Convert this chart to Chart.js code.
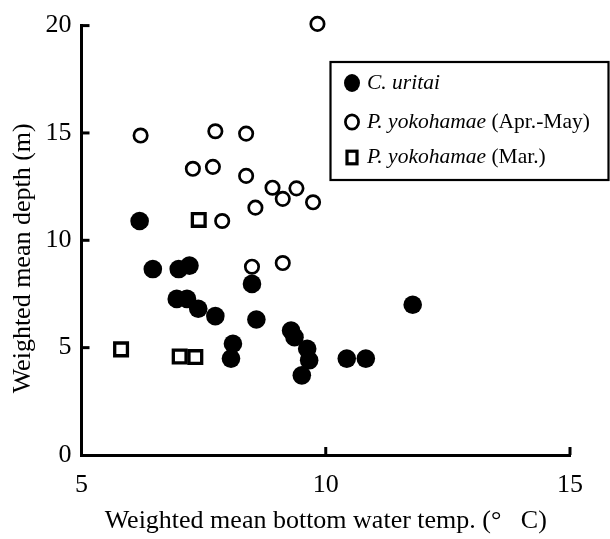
<!DOCTYPE html>
<html>
<head>
<meta charset="utf-8">
<script src="https://cdn.jsdelivr.net/npm/chart.js@4.4.1/dist/chart.umd.min.js"></script>
<style>
  html, body { margin: 0; padding: 0; background: #fff; }
  #wrap { width: 610px; height: 539px; position: relative; }
</style>
</head>
<body>
<div id="wrap"><canvas id="c" width="610" height="539"></canvas></div>
<script>
// ---- data ----
const xTicks = [5, 10, 15];
const yTicks = [0, 5, 10, 15, 20];

const uritaiX = [6.19, 6.46, 6.99, 7.21, 8.49, 6.95, 7.16, 7.39, 7.74, 8.58, 9.29, 9.36, 9.62, 9.66, 9.51, 8.10, 8.06, 10.43, 10.82, 11.78];
const uritaiY = [10.9, 8.66, 8.66, 8.82, 7.97, 7.27, 7.27, 6.81, 6.47, 6.31, 5.80, 5.49, 4.95, 4.41, 3.71, 5.18, 4.49, 4.49, 4.49, 7.0];

const aprMayX = [9.83, 6.21, 7.74, 8.37, 7.28, 7.69, 8.37, 8.91, 9.12, 9.40, 9.74, 8.56, 7.88, 8.49, 9.12];
const aprMayY = [20.08, 14.88, 15.08, 14.97, 13.33, 13.42, 13.0, 12.45, 11.93, 12.42, 11.77, 11.52, 10.9, 8.77, 8.94];

const marX = [7.40, 5.81, 7.01, 7.33];
const marY = [10.95, 4.92, 4.59, 4.56];

const legendItems = [
  { italic: 'C. uritai', normal: '' },
  { italic: 'P. yokohamae', normal: ' (Apr.-May)' },
  { italic: 'P. yokohamae', normal: ' (Mar.)' }
];
const xTitle = 'Weighted mean bottom water temp. (\u00b0\u2002 C)';
const yTitle = 'Weighted mean depth (m)';

// ---- build ----
const pts = (xs, ys) => xs.map((x, i) => ({ x: x, y: ys[i] }));
const FONT = '"Liberation Serif", "Times New Roman", serif';

const innerTicks = {
  id: 'innerTicks',
  afterDatasetsDraw(chart) {
    const ctx = chart.ctx, xs = chart.scales.x, ys = chart.scales.y;
    ctx.save();
    ctx.strokeStyle = '#000';
    ctx.lineWidth = 3;
    xTicks.forEach(v => {
      const px = xs.getPixelForValue(v);
      if (v === xs.min) return;
      ctx.beginPath();
      ctx.moveTo(px, ys.bottom);
      ctx.lineTo(px, ys.bottom - 8);
      ctx.stroke();
    });
    yTicks.forEach(v => {
      const py = ys.getPixelForValue(v);
      if (v === ys.min) return;
      ctx.beginPath();
      ctx.moveTo(xs.left, py);
      ctx.lineTo(xs.left + 8, py);
      ctx.stroke();
    });
    // y axis title (placed like the reference, a little below the axis centre)
    ctx.fillStyle = '#000';
    ctx.font = '26px ' + FONT;
    ctx.textAlign = 'center';
    ctx.textBaseline = 'middle';
    ctx.translate(23, (ys.top + ys.bottom) / 2 + 18);
    ctx.rotate(-Math.PI / 2);
    ctx.fillText(yTitle, 0, 0);
    ctx.restore();
  }
};

const boxLegend = {
  id: 'boxLegend',
  afterDraw(chart) {
    const ctx = chart.ctx;
    const L = 330.5, T = 62, R = 608.5, B = 180;
    ctx.save();
    ctx.fillStyle = '#fff';
    ctx.fillRect(L, T, R - L, B - T);
    ctx.strokeStyle = '#000';
    ctx.lineWidth = 2.2;
    ctx.strokeRect(L, T, R - L, B - T);
    const rows = [83, 122, 157.5];
    const mx = 352, tx = 367;
    // markers
    ctx.fillStyle = '#000';
    ctx.beginPath();
    ctx.ellipse(mx, rows[0], 8, 9, 0, 0, Math.PI * 2);
    ctx.fill();
    ctx.beginPath();
    ctx.lineWidth = 2.7;
    ctx.ellipse(mx, rows[1], 6.6, 7.2, 0, 0, Math.PI * 2);
    ctx.fillStyle = '#fff';
    ctx.fill();
    ctx.stroke();
    ctx.lineWidth = 3.2;
    ctx.strokeRect(mx - 5, rows[2] - 6.3, 10, 12.6);
    // text
    ctx.fillStyle = '#000';
    ctx.textBaseline = 'middle';
    ctx.textAlign = 'left';
    legendItems.forEach((it, i) => {
      ctx.font = 'italic 21.5px ' + FONT;
      ctx.fillText(it.italic, tx, rows[i]);
      const w = ctx.measureText(it.italic).width;
      ctx.font = '21.5px ' + FONT;
      ctx.fillText(it.normal, tx + w, rows[i]);
    });
    ctx.restore();
  }
};

new Chart(document.getElementById('c'), {
  type: 'scatter',
  data: {
    datasets: [
      {
        label: 'P. yokohamae (Apr.-May)',
        data: pts(aprMayX, aprMayY),
        pointStyle: 'circle',
        pointRadius: 6.7,
        pointBorderWidth: 2.7,
        pointBackgroundColor: '#fff',
        pointBorderColor: '#000',
        order: 1,
        clip: false
      },
      {
        label: 'P. yokohamae (Mar.)',
        data: pts(marX, marY),
        pointStyle: 'rect',
        pointRadius: 9,
        pointBorderWidth: 3.3,
        pointBackgroundColor: '#fff',
        pointBorderColor: '#000',
        order: 2,
        clip: false
      },
      {
        label: 'C. uritai',
        data: pts(uritaiX, uritaiY),
        pointStyle: 'circle',
        pointRadius: 9.3,
        pointBorderWidth: 0,
        pointBackgroundColor: '#000',
        pointBorderColor: '#000',
        order: 3,
        clip: false
      }
    ]
  },
  options: {
    responsive: false,
    animation: false,
    events: [],
    layout: { padding: { left: 0, right: 40, top: 23, bottom: 0 } },
    plugins: { legend: { display: false }, tooltip: { enabled: false } },
    scales: {
      x: {
        type: 'linear', min: 5, max: 15,
        afterBuildTicks: s => { s.ticks = xTicks.map(v => ({ value: v })); },
        afterFit: s => { s.height = 84; },
        grid: { display: false, drawTicks: false },
        border: { display: true, color: '#000', width: 3 },
        ticks: { color: '#000', font: { family: FONT, size: 26 }, padding: 15, maxRotation: 0 },
        title: { display: true, text: xTitle, color: '#000', font: { family: FONT, size: 26 }, padding: { top: 0, bottom: 2 } }
      },
      y: {
        type: 'linear', min: 0, max: 20,
        afterBuildTicks: s => { s.ticks = yTicks.map(v => ({ value: v })); },
        afterFit: s => { s.width = 81.5; },
        grid: { display: false, drawTicks: false },
        border: { display: true, color: '#000', width: 3 },
        ticks: { color: '#000', font: { family: FONT, size: 26 }, padding: 10 },
        title: { display: false, text: yTitle }
      }
    }
  },
  plugins: [innerTicks, boxLegend]
});
</script>
</body>
</html>
